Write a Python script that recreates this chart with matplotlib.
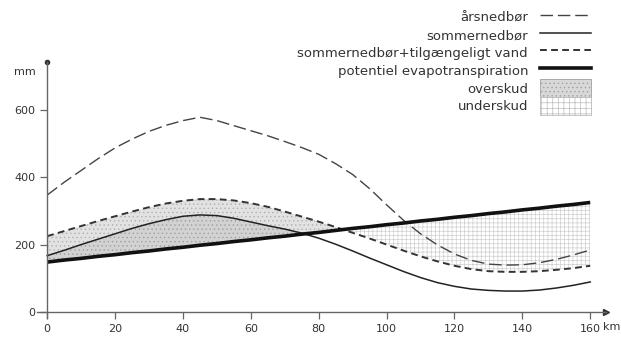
import numpy as np
import matplotlib
matplotlib.use("Agg")
import matplotlib.pyplot as plt
from matplotlib.lines import Line2D
from matplotlib.patches import Patch

# Afstand (km) og nedbør/fordampning (mm)
km = np.arange(0, 161, 5)
aarsnedboer = [347, 385, 420, 455, 487, 513, 536, 554, 568, 578, 568, 553, 538, 523, 506, 488,
               468, 440, 408, 366, 318, 272, 232, 199, 172, 153, 142, 139, 140, 146, 156, 169, 184]
sommernedboer = [167, 183, 200, 216, 232, 248, 262, 274, 284, 288, 286, 278, 267, 256, 246, 234,
                 219, 201, 181, 160, 140, 120, 102, 87, 76, 68, 64, 62, 62, 65, 71, 79, 89]
sommer_vand = [225, 240, 255, 270, 284, 298, 311, 322, 330, 335, 335, 331, 323, 312, 298, 283,
               268, 252, 235, 218, 200, 182, 165, 150, 137, 127, 121, 119, 119, 121, 125, 130, 137]
evapo = [148, 154, 159, 165, 170, 176, 181, 187, 192, 198, 203, 209, 214, 220, 225, 231,
         236, 242, 248, 253, 259, 264, 270, 275, 281, 286, 292, 297, 303, 308, 314, 319, 325]

labels = ["årsnedbør", "sommernedbør", "sommernedbør+tilgængeligt vand",
          "potentiel evapotranspiration", "overskud", "underskud"]
xticks = [0, 20, 40, 60, 80, 100, 120, 140, 160]
yticks = [0, 200, 400, 600]

sv = np.array(sommer_vand)
sn = np.array(sommernedboer)
ev = np.array(evapo)

plt.rcParams["hatch.linewidth"] = 0.5
fig = plt.figure(figsize=(6.21, 3.43), dpi=100)
ax = fig.add_axes([37 / 621, 25 / 343, 568.5 / 621, 256 / 343])

# Overskud (prikket grå) og underskud (ternet)
ax.fill_between(km, ev, sv, where=sv > ev, interpolate=True, facecolor="#e2e2e2",
                edgecolor="#b0b0b0", hatch="....", linewidth=0)
ax.fill_between(km, ev, sn, where=sn > ev, interpolate=True, facecolor="#d2d2d2",
                edgecolor="#a0a0a0", hatch="....", linewidth=0)
ax.fill_between(km, ev, sv, where=ev > sv, interpolate=True, facecolor="white",
                edgecolor="#cfcfcf", hatch="++++", linewidth=0)

ax.plot(km, aarsnedboer, color="#444444", lw=1.0, ls=(0, (9, 3.5)))
ax.plot(km, sommernedboer, color="#222222", lw=1.1)
ax.plot(km, sommer_vand, color="#333333", lw=1.4, ls=(0, (3.5, 2.2)))
ax.plot(km, evapo, color="#111111", lw=2.6, solid_capstyle="butt")

ax.set_xlim(-3, 164.5)
ax.set_ylim(-18, 742)
for s in ["top", "right"]:
    ax.spines[s].set_visible(False)
ax.spines["left"].set_position(("data", 0))
ax.spines["bottom"].set_position(("data", 0))
for s in ["left", "bottom"]:
    ax.spines[s].set_color("#666666")
    ax.spines[s].set_linewidth(1.0)
ax.plot(1, 0, ">", color="#333333", ms=4, transform=ax.get_yaxis_transform(), clip_on=False)
ax.plot(0, 1, "o", color="#333333", ms=3, transform=ax.get_xaxis_transform(), clip_on=False)

ax.set_xticks(xticks)
ax.set_yticks(yticks)
ax.tick_params(colors="#666666", labelcolor="#333333", labelsize=8, length=5, width=0.9)
ax.text(163.8, -30, "km", fontsize=8, color="#333333", ha="left", va="top")
ax.text(-3.5, 712, "mm", fontsize=8, color="#333333", ha="right", va="center")

handles = [
    Line2D([], [], color="#444444", lw=1.0, ls=(0, (9, 3.5))),
    Line2D([], [], color="#222222", lw=1.1),
    Line2D([], [], color="#333333", lw=1.4, ls=(0, (3.5, 2.2))),
    Line2D([], [], color="#111111", lw=2.6),
    Patch(facecolor="#d8d8d8", edgecolor="#a0a0a0", hatch="....", lw=0.6),
    Patch(facecolor="white", edgecolor="#bdbdbd", hatch="+++", lw=0.6),
]
fig.legend(handles, labels, loc="upper right", bbox_to_anchor=(598 / 621, 1 - 1.5 / 343),
           frameon=False, markerfirst=False, fontsize=9.5, handlelength=3.9,
           handleheight=1.7, handletextpad=0.9, labelspacing=0.0, borderpad=0,
           labelcolor="#333333")

fig.savefig("out.png", dpi=100)
